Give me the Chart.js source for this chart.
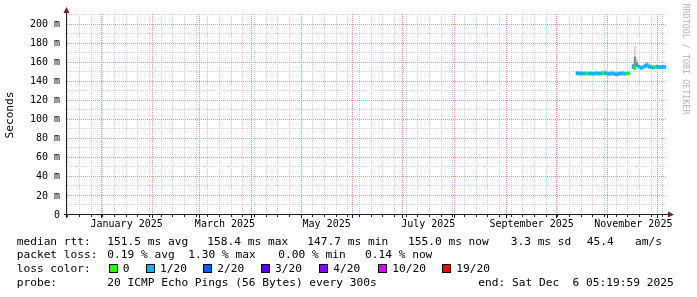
<!DOCTYPE html>
<html>
<head>
<meta charset="utf-8">
<script src="https://cdn.jsdelivr.net/npm/chart.js@4.4.0/dist/chart.umd.min.js"></script>
<style>
html,body{margin:0;padding:0;background:#fff;}
#wrap{position:relative;width:697px;height:297px;overflow:hidden;background:#fff;}
#c{position:absolute;left:0;top:0;}
.lg{position:absolute;font-family:'DejaVu Sans Mono',monospace;font-size:11.2px;line-height:14px;white-space:pre;color:#000;}
.sw{position:absolute;width:9px;height:9px;border:1px solid #000;box-sizing:border-box;}
#ylab{position:absolute;left:-20px;top:108px;width:60px;height:14px;line-height:14px;text-align:center;font-family:'DejaVu Sans Mono',monospace;font-size:11.2px;color:#000;white-space:pre;transform:rotate(-90deg);}
#wm{position:absolute;left:626px;top:54px;width:120px;height:10px;line-height:10px;text-align:center;font-family:'DejaVu Sans Mono',monospace;font-size:8.4px;color:#b4b4b4;white-space:pre;transform:rotate(90deg);}
</style>
</head>
<body>
<div id="wrap">
<canvas id="c" width="697" height="297"></canvas>
<div id="ylab">Seconds</div>
<div id="wm">RRDTOOL / TOBI OETIKER</div>
</div>
<script>
// time frame of the graph (last 360 days)
var MS_DAY=86400000;
var endTime=Date.UTC(2025,11,6,5,19,59);
var startTime=endTime-360*MS_DAY;
// one sample every 1.2 days, starting mid October
var firstSample=Date.UTC(2025,9,13,5,20,0);
var sampleStep=1.2*MS_DAY;

// median rtt (ms)
var medianMs=[
148.8,148.6,148.4,148.5,148.7,148.3,148.6,148.5,148.4,148.6,
148.7,148.5,148.6,148.8,148.9,148.5,148.2,148.4,148.6,147.9,
147.7,148.3,148.5,148.6,148.4,148.5,148.6,null,155.0,154.3,
157.3,155.6,154.6,155.0,156.4,157.0,155.8,155.2,154.8,155.4,
155.6,155.4,155.2,155.5,155.4];
// lost pings out of 20
var lossOf20=[
1,1,1,1,1,0,1,1,1,1,
1,1,1,0,1,1,1,1,1,1,
1,1,1,1,1,0,0,null,1,0,
1,1,1,1,1,1,1,1,1,0,
1,1,1,1,1];
// smoke: spread of the pings (ms)
var smokeLoMs=[
147.6,147.5,147.4,147.4,147.5,147.2,147.5,147.4,147.3,147.5,
147.6,147.4,147.5,147.6,147.7,147.3,147.0,147.2,147.4,146.6,
146.4,147.1,147.3,147.4,147.3,147.4,147.5,null,153.4,153.0,
155.0,154.2,153.2,153.6,154.9,155.4,154.3,153.8,153.4,154.0,
154.2,154.0,153.8,154.1,154.0];
var smokeHiMs=[
150.0,150.8,151.2,151.0,150.6,149.8,149.9,150.2,150.0,149.8,
149.9,150.0,150.3,151.8,152.0,151.5,151.0,151.2,151.5,151.0,
150.8,150.6,151.0,151.2,150.6,150.0,149.8,null,157.5,177.0,
163.0,157.5,156.5,157.0,159.0,159.5,159.0,158.5,157.0,157.0,
157.5,157.0,157.0,157.0,156.8];
// dense part of the smoke
var coreLoMs=[
148.2,null,null,null,null,null,null,null,null,null,
null,null,null,null,null,null,null,null,null,null,
null,null,null,null,null,null,null,null,156.5,156.5,
156.5,null,null,null,null,157.5,null,null,null,null,
null,null,null,null,null];
var coreHiMs=[
150.0,null,null,null,null,null,null,null,null,null,
null,null,null,null,null,null,null,null,null,null,
null,null,null,null,null,null,null,null,158.0,166.0,
160.0,null,null,null,null,159.0,null,null,null,null,
null,null,null,null,null];

var lossSteps=[0,1,2,3,4,10,19];
var lossNames=['0','1/20','2/20','3/20','4/20','10/20','19/20'];
var lossColors=['#26ff00','#00b8ff','#0059ff','#5e00ff','#7e00ff','#dd00ff','#ff0000'];

var yTicks=[0,10,20,30,40,50,60,70,80,90,100,110,120,130,140,150,160,170,180,190,200,210];
var monthLabels=['January 2025','March 2025','May 2025','July 2025','September 2025','November 2025'];
var monthLabelDates=['2025-01-16','2025-03-16','2025-05-16','2025-07-16','2025-09-16','2025-11-16'];
var monthLineDates=['2025-01-01','2025-02-01','2025-03-01','2025-04-01','2025-05-01','2025-06-01',
	'2025-07-01','2025-08-01','2025-09-01','2025-10-01','2025-11-01','2025-12-01'];
var firstWeekLine='2024-12-12';

var majorGrid='#e89090';
var minorGrid='#d0d0d0';

function lossColor(n){
	var c=lossColors[0];
	for(var i=0;i<lossSteps.length;i++){
		if(n>=lossSteps[i]) c=lossColors[i];
	}
	return c;
}

// x ticks: weekly lines, month lines, and label positions (label ticks draw no line)
var tickKind={};
var tickText={};
var wk=Date.parse(firstWeekLine);
while(wk<endTime){
	tickKind[wk]='week'; wk+=7*MS_DAY;
}
for(var i=0;i<monthLineDates.length;i++){
	tickKind[Date.parse(monthLineDates[i])]='month';
}
for(var i=0;i<monthLabelDates.length;i++){
	var v=Date.parse(monthLabelDates[i]);
	if(tickKind[v]=='week') tickKind[v]='weeklabel';
	else tickKind[v]='label';
	tickText[v]=monthLabels[i];
}
var xTickList=Object.keys(tickKind).map(Number).sort(function(a,b){return a-b;});

var medianBars=[],smokeBars=[],coreBars=[],medianColors=[];
var bandHalf=1.6;
for(var i=0;i<medianMs.length;i++){
	var t=firstSample+i*sampleStep;
	medianBars.push({x:t,y:medianMs[i]==null?null:[medianMs[i]-bandHalf,medianMs[i]+bandHalf]});
	smokeBars.push({x:t,y:smokeLoMs[i]==null?null:[smokeLoMs[i],smokeHiMs[i]]});
	coreBars.push({x:t,y:coreLoMs[i]==null?null:[coreLoMs[i],coreHiMs[i]]});
	medianColors.push(lossOf20[i]==null?'rgba(0,0,0,0)':lossColor(lossOf20[i]));
}

// rrdtool style dotted grid, one pixel on / one off
var gridPlugin={
	id:'rrdGrid',
	beforeDatasetsDraw:function(chart){
		var c=chart.ctx,a=chart.chartArea,xs=chart.scales.x,ys=chart.scales.y;
		var top=Math.floor(ys.getPixelForValue(210)-0.5);
		var bottom=Math.floor(ys.getPixelForValue(0)-0.5);
		c.save();
		function vline(px,col){
			c.fillStyle=col;
			for(var y=top;y<bottom;y+=2) c.fillRect(px,y,1,1);
		}
		function hline(py,col){
			c.fillStyle=col;
			for(var x=Math.round(a.left);x<Math.round(a.right);x+=2) c.fillRect(x,py,1,1);
		}
		for(var pass=0;pass<2;pass++){
			for(var i=0;i<yTicks.length;i++){
				var v=yTicks[i];
				if(v==0) continue;
				var major=(v%20==0);
				if((pass==1)!=major) continue;
				hline(Math.floor(ys.getPixelForValue(v)-0.5),major?majorGrid:minorGrid);
			}
			for(var i=0;i<xTickList.length;i++){
				var k=tickKind[xTickList[i]];
				if(k=='label') continue;
				var major=(k=='month');
				if((pass==1)!=major) continue;
				vline(Math.round(xs.getPixelForValue(xTickList[i]))-1,major?majorGrid:minorGrid);
			}
		}
		c.restore();
	}
};

var axisPlugin={
	id:'rrdAxes',
	afterDraw:function(chart){
		var c=chart.ctx,a=chart.chartArea,xs=chart.scales.x;
		c.save();
		c.strokeStyle='#1e1e1e';
		c.lineWidth=1;
		c.beginPath();
		c.moveTo(a.left-3,a.bottom-0.5); c.lineTo(a.right+3,a.bottom-0.5);
		c.moveTo(a.left-0.5,a.bottom+3); c.lineTo(a.left-0.5,a.top-5);
		for(var i=0;i<xTickList.length;i++){
			var k=tickKind[xTickList[i]];
			if(k=='label') continue;
			var px=Math.round(xs.getPixelForValue(xTickList[i]))-0.5;
			var len=(k=='month')?3:2;
			c.moveTo(px,a.bottom); c.lineTo(px,a.bottom+len);
		}
		c.stroke();
		c.fillStyle='#7f1f1f';
		c.beginPath();
		c.moveTo(a.left-3.5,a.top-2); c.lineTo(a.left+2.5,a.top-2); c.lineTo(a.left-0.5,a.top-8); c.closePath();
		c.fill();
		c.beginPath();
		c.moveTo(a.right+1,a.bottom-3.5); c.lineTo(a.right+1,a.bottom+2.5); c.lineTo(a.right+7,a.bottom-0.5); c.closePath();
		c.fill();
		c.restore();
	}
};

var ctx=document.getElementById('c').getContext('2d');
var myChart=new Chart(ctx,{
	type:'bar',
	data:{
		datasets:[
			{data:smokeBars,backgroundColor:'#d6d6d6',order:3,grouped:false,barPercentage:1,categoryPercentage:1,borderWidth:0},
			{data:coreBars,backgroundColor:'#8a8a8a',order:2,grouped:false,barPercentage:1,categoryPercentage:1,borderWidth:0},
			{data:medianBars,backgroundColor:medianColors,order:1,grouped:false,barPercentage:1,categoryPercentage:1,borderWidth:0}
		]
	},
	options:{
		responsive:false,
		animation:false,
		devicePixelRatio:1,
		layout:{padding:{left:0,right:30,top:15,bottom:62}},
		plugins:{legend:{display:false},tooltip:{enabled:false}},
		scales:{
			x:{
				type:'linear',
				min:startTime,
				max:endTime,
				offset:false,
				grid:{display:false,offset:false,drawTicks:false},
				border:{display:false},
				afterBuildTicks:function(scale){
					scale.ticks=xTickList.map(function(v){return {value:v};});
				},
				afterFit:function(scale){scale.height=20;},
				ticks:{autoSkip:false,maxRotation:0,minRotation:0,padding:3,color:'#000',
					font:{family:'DejaVu Sans Mono',size:10},
					callback:function(v){return tickText[v]||'';}}
			},
			y:{
				min:0,
				max:210,
				grid:{display:false,drawTicks:false},
				border:{display:false},
				afterBuildTicks:function(scale){
					scale.ticks=yTicks.map(function(v){return {value:v};});
				},
				afterFit:function(scale){scale.width=67;},
				ticks:{padding:7,color:'#000',font:{family:'DejaVu Sans Mono',size:10},
					callback:function(v){
						if(v%20!=0) return '';
						return v==0?'0':v+' m';
					}}
			}
		}
	},
	plugins:[gridPlugin,axisPlugin]
});

// legend lines under the graph
var wrap=document.getElementById('wrap');
function addText(x,yc,s){
	var d=document.createElement('div');
	d.className='lg';
	d.style.left=x+'px';
	d.style.top=(yc-7)+'px';
	d.textContent=s;
	wrap.appendChild(d);
}
var line1=[[16.7,'median rtt:'],[107.3,'151.5 ms avg'],[207.3,'158.4 ms max'],[307.3,'147.7 ms min'],
	[408,'155.0 ms now'],[510.7,'3.3 ms sd'],[586.7,'45.4'],[635,'am/s']];
var line2=[[16.7,'packet loss:'],[107.3,'0.19 % avg'],[188.3,'1.30 % max'],[278.3,'0.00 % min'],[365,'0.14 % now']];
var line4=[[16.7,'probe:'],[107.3,'20 ICMP Echo Pings (56 Bytes) every 300s'],[478.3,'end: Sat Dec  6 05:19:59 2025']];
var swatchX=[108.7,146,203.3,261,319.3,378.3,442.3];
line1.forEach(function(it){addText(it[0],241.7,it[1]);});
line2.forEach(function(it){addText(it[0],255.3,it[1]);});
addText(16.7,269,'loss color:');
for(var i=0;i<lossNames.length;i++){
	var s=document.createElement('div');
	s.className='sw';
	s.style.left=Math.round(swatchX[i])+'px';
	s.style.top='264px';
	s.style.background=lossColors[i];
	wrap.appendChild(s);
	addText(swatchX[i]+14,269,lossNames[i]);
}
line4.forEach(function(it){addText(it[0],282.7,it[1]);});
</script>
</body>
</html>
